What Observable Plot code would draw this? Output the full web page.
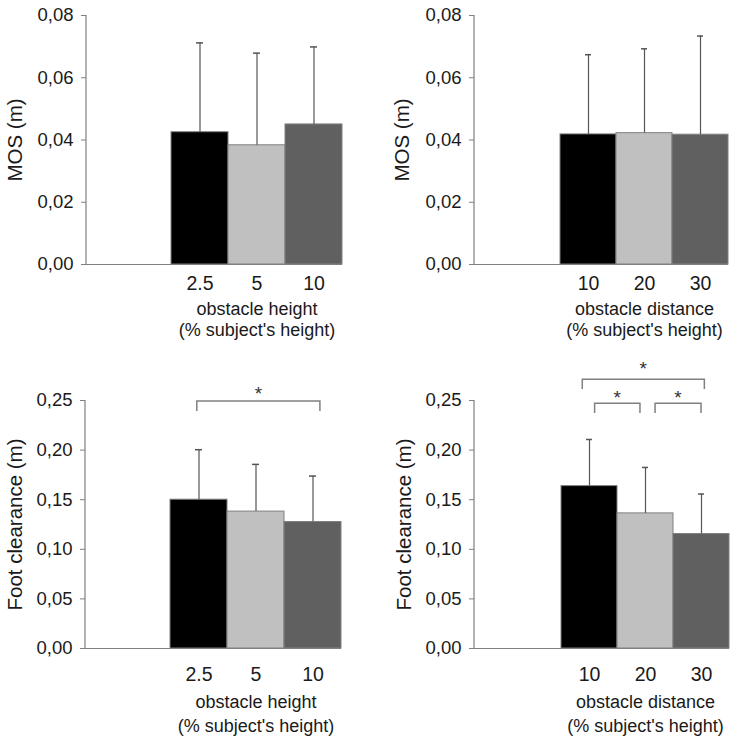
<!DOCTYPE html>
<html><head><meta charset="utf-8">
<script src="https://cdn.jsdelivr.net/npm/d3@7"></script>
<script src="https://cdn.jsdelivr.net/npm/@observablehq/plot@0.6"></script>
<style>
html,body{margin:0;padding:0;background:#fff;}
#wrap{position:relative;width:738px;height:739px;overflow:hidden;}
#wrap > div{position:absolute;}
</style></head><body><div id="wrap"></div>
<script>
// ---- data ----
const heightCats = ["2.5", "5", "10"];
const distanceCats = ["10", "20", "30"];

const mosHeightMean = [0.0425, 0.0383, 0.0450];
const mosHeightSD   = [0.0287, 0.0296, 0.0249];
const mosDistanceMean = [0.0418, 0.0422, 0.0417];
const mosDistanceSD   = [0.0256, 0.0271, 0.0317];

const fcHeightMean = [0.150, 0.138, 0.1275];
const fcHeightSD   = [0.0504, 0.0476, 0.0463];
const fcDistanceMean = [0.1637, 0.1362, 0.1154];
const fcDistanceSD   = [0.0470, 0.0463, 0.0403];

const mosTicks = [0, 0.02, 0.04, 0.06, 0.08];
const fcTicks = [0, 0.05, 0.10, 0.15, 0.20, 0.25];

const mosTitle = "MOS (m)";
const fcTitle = "Foot clearance (m)";
const heightLabel = "obstacle height\n(% subject's height)";
const distanceLabel = "obstacle distance\n(% subject's height)";

// significance brackets: ends as category + shift (in bar widths), y values in data units
const fcHeightBrackets = [
  {from: "2.5", fromShift: -0.03, to: "10", toShift: 0.13, level: 0.249, foot: 0.239, star: 0.256}
];
const fcDistanceBrackets = [
  {from: "10", fromShift: -0.12, to: "30", toShift: 0.06, level: 0.271, foot: 0.261, star: 0.281},
  {from: "10", fromShift: 0.10, to: "20", toShift: -0.09, level: 0.2467, foot: 0.237, star: 0.2525},
  {from: "20", fromShift: 0.18, to: "30", toShift: 0.0, level: 0.2467, foot: 0.237, star: 0.2525}
];

// ---- style ----
const barFills = ["#000000", "#c0c0c0", "#606060"];
const FONT = "'Liberation Sans', Arial, Helvetica, sans-serif";
const TEXT = "#1a1a1a";
const LINE = "#808080";
const fmt = d => d3.format(".2f")(d).replace(".", ",");

function panel(o) {
  const rows = o.cats.map((c, i) => ({cat: c, mean: o.mean[i], top: o.mean[i] + o.sd[i], fill: barFills[i]}));
  const marks = [
    Plot.barY(rows, {x: "cat", y: "mean", fill: d => d.fill, stroke: LINE, strokeWidth: 1}),
    Plot.ruleX(rows, {x: "cat", y1: "mean", y2: "top", stroke: "#555", strokeWidth: 1.2}),
    Plot.tickY(rows, {x: "cat", y: "top", stroke: "#555", strokeWidth: 1.5, insetLeft: 25, insetRight: 25}),
    Plot.ruleY([0], {stroke: LINE, strokeWidth: 1.2}),
    (index, scales, values, dims) => {
      const l = d3.create("svg:line")
        .attr("x1", dims.marginLeft).attr("x2", dims.marginLeft)
        .attr("y1", dims.marginTop).attr("y2", dims.height - dims.marginBottom)
        .attr("stroke", LINE).attr("stroke-width", 1.2);
      return l.node();
    },
    Plot.axisY({ticks: o.ticks, tickFormat: fmt, tickSize: 5, tickPadding: 8, fontSize: 18.5, stroke: LINE, fill: TEXT, label: null}),
    Plot.axisX({tickSize: 0, tickPadding: o.xpad, fontSize: 19.5, fill: TEXT, label: null}),
    Plot.text([o.title], {text: d => d, frameAnchor: "left", dx: o.ydx, rotate: -90, fontSize: 20.5, textAnchor: "middle", lineAnchor: "middle", fill: TEXT}),
    Plot.text([o.xlabel], {text: d => d, x: () => o.cats[1], frameAnchor: "bottom", dy: o.xlabDy, fontSize: 18, lineHeight: o.lh, textAnchor: "middle", lineAnchor: "middle", fill: TEXT})
  ];
  if (o.brackets) {
    marks.push((index, scales) => {
      const x = scales.x, y = scales.y;
      const bw = x.bandwidth ? x.bandwidth() : 0;
      const g = d3.create("svg:g");
      for (const b of o.brackets) {
        const x1 = x(b.from) + bw * (0.5 + b.fromShift);
        const x2 = x(b.to) + bw * (0.5 + b.toShift);
        g.append("path")
          .attr("d", `M${x1},${y(b.foot)}V${y(b.level)}H${x2}V${y(b.foot)}`)
          .attr("fill", "none").attr("stroke", LINE).attr("stroke-width", 1.5);
        g.append("text")
          .attr("x", (x1 + x2) / 2).attr("y", y(b.star))
          .attr("dy", "0.32em").attr("text-anchor", "middle")
          .attr("font-size", 19).attr("fill", "#333").text("*");
      }
      return g.node();
    });
  }
  const chart = Plot.plot({
    width: 369, height: o.height,
    marginLeft: o.ml, marginRight: o.mr, marginTop: o.mt, marginBottom: o.mb,
    style: {fontFamily: FONT, color: TEXT, background: "white", overflow: "visible"},
    x: {type: "band", domain: o.cats, paddingInner: 0, paddingOuter: 0.745, align: 1, label: null},
    y: {domain: [0, o.ymax], label: null},
    marks
  });
  const div = document.createElement("div");
  div.style.left = o.left + "px";
  div.style.top = o.top + "px";
  div.appendChild(chart);
  document.getElementById("wrap").appendChild(div);
}

panel({left: 0, top: 0, height: 345, ml: 86, mr: 27, mt: 15, mb: 81, cats: heightCats,
  mean: mosHeightMean, sd: mosHeightSD, ymax: 0.08, ticks: mosTicks, title: mosTitle, xlabel: heightLabel,
  ydx: -71, xpad: 12, xlabDy: 54, lh: 1.17});
panel({left: 369, top: 0, height: 345, ml: 105, mr: 10, mt: 15, mb: 81, cats: distanceCats,
  mean: mosDistanceMean, sd: mosDistanceSD, ymax: 0.08, ticks: mosTicks, title: mosTitle, xlabel: distanceLabel,
  ydx: -72, xpad: 12, xlabDy: 54, lh: 1.17});
panel({left: 0, top: 340, height: 399, ml: 85, mr: 28, mt: 60, mb: 91, cats: heightCats,
  mean: fcHeightMean, sd: fcHeightSD, ymax: 0.25, ticks: fcTicks, title: fcTitle, xlabel: heightLabel,
  ydx: -70, xpad: 19, xlabDy: 64, lh: 1.29, brackets: fcHeightBrackets});
panel({left: 369, top: 340, height: 399, ml: 105, mr: 9, mt: 60, mb: 91, cats: distanceCats,
  mean: fcDistanceMean, sd: fcDistanceSD, ymax: 0.25, ticks: fcTicks, title: fcTitle, xlabel: distanceLabel,
  ydx: -70, xpad: 19, xlabDy: 64, lh: 1.29, brackets: fcDistanceBrackets});
</script></body></html>
